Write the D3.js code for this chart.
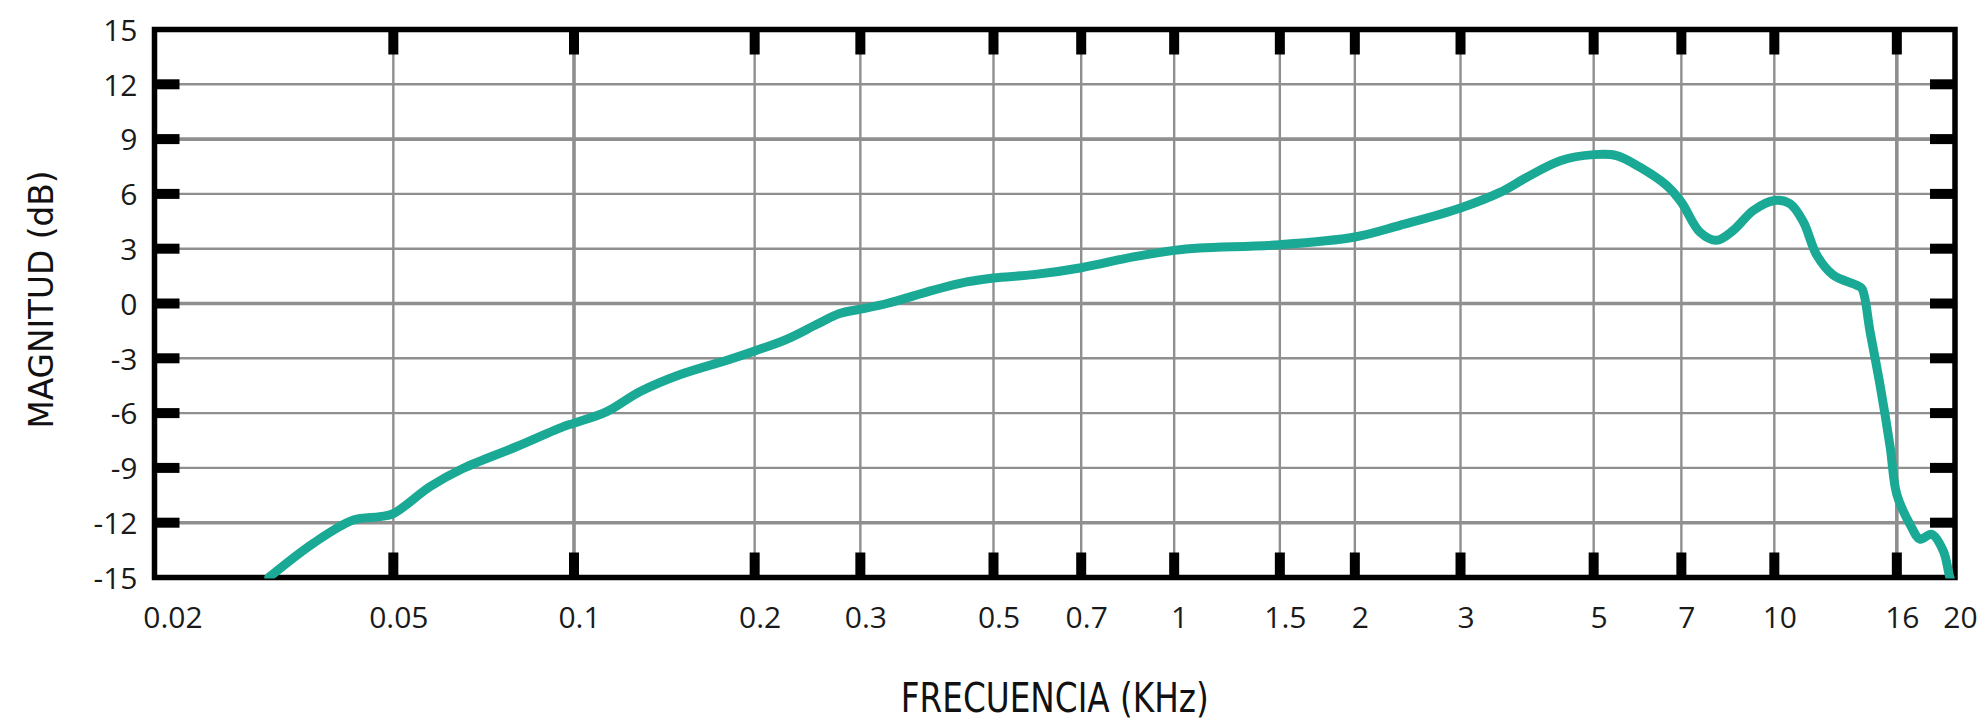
<!DOCTYPE html>
<html>
<head>
<meta charset="utf-8">
<script src="https://cdn.jsdelivr.net/npm/d3@7/dist/d3.min.js"></script>
<style>
  html, body { margin: 0; padding: 0; background: #fff; }
  svg { display: block; }
</style>
</head>
<body>
<svg id="chart" width="1986" height="723"></svg>
<script>
// ---- data ----
const freqKHz = [0.031, 0.0368, 0.0429, 0.0475, 0.05, 0.0576, 0.0654, 0.0803, 0.096, 0.1,
  0.1134, 0.1289, 0.150, 0.182, 0.2, 0.226, 0.254, 0.277, 0.3, 0.332,
  0.397, 0.451, 0.5, 0.583, 0.7, 0.855, 1.0, 1.104, 1.5, 2,
  2.378, 3, 3.49, 3.87, 4.40, 5, 5.46, 5.97, 6.62, 7,
  7.52, 8.01, 8.54, 9.23, 10, 10.62, 11.18, 11.77, 12.54, 13.72,
  13.99, 14.44, 15.0, 15.59, 16, 16.83, 17.49, 18.29, 19.12, 19.6, 20];
const magnitudeDb = [-15, -13.12, -11.85, -11.67, -11.5, -10.02, -9.02, -7.83, -6.74, -6.55,
  -5.92, -4.82, -3.9, -3.05, -2.6, -1.96, -1.14, -0.55, -0.31, 0.0,
  0.73, 1.18, 1.4, 1.58, 1.96, 2.55, 2.91, 3.04, 3.22, 3.64,
  4.28, 5.23, 6.08, 6.91, 7.82, 8.15, 8.1, 7.46, 6.45, 5.54,
  3.9, 3.46, 4.0, 5.1, 5.64, 5.46, 4.46, 2.64, 1.55, 1.0,
  0.82, -1.55, -4.46, -7.82, -10.46, -12.09, -12.9, -12.63, -13.54, -14.97, -15.8];
const xTickValues = [0.02, 0.05, 0.1, 0.2, 0.3, 0.5, 0.7, 1, 1.5, 2, 3, 5, 7, 10, 16, 20];
const yTickValues = [-15, -12, -9, -6, -3, 0, 3, 6, 9, 12, 15];
const xTitle = "FRECUENCIA (KHz)";
const yTitle = "MAGNITUD (dB)";

(function () {
// ---- layout ----
const pL = 154.5, pR = 1955, pT = 29.5, pB = 577.5;
const svg = d3.select("#chart");
const x = d3.scaleLog().domain([0.02, 20]).range([pL, pR]);
const y = d3.scaleLinear().domain([-15, 15]).range([pB, pT]);

const thickX = new Set([0.1, 16]);
const thickY = new Set([9, 0, -12]);

// grid
const grid = svg.append("g");
grid.selectAll("line.vx").data(xTickValues.filter(d => d > 0.02 && d < 20)).join("line")
  .attr("x1", d => x(d)).attr("x2", d => x(d)).attr("y1", pT).attr("y2", pB)
  .attr("stroke", "#8f8f8f").attr("stroke-width", d => thickX.has(d) ? 3.6 : 2.4);
grid.selectAll("line.hy").data(yTickValues.filter(d => d > -15 && d < 15)).join("line")
  .attr("x1", pL).attr("x2", pR).attr("y1", d => y(d)).attr("y2", d => y(d))
  .attr("stroke", "#8f8f8f").attr("stroke-width", d => thickY.has(d) ? 3.6 : 2.4);

// frame
svg.append("rect").attr("x", pL).attr("y", pT).attr("width", pR - pL).attr("height", pB - pT)
  .attr("fill", "none").attr("stroke", "#000").attr("stroke-width", 5.5);

// inner tick marks
const tickLen = 25, tickW = 10;
const innerX = xTickValues.filter(d => d > 0.02 && d < 20);
const innerY = yTickValues.filter(d => d > -15 && d < 15);
const tk = svg.append("g").attr("fill", "#000");
tk.selectAll("rect.tb").data(innerX).join("rect")
  .attr("x", d => x(d) - tickW / 2).attr("y", pB - tickLen).attr("width", tickW).attr("height", tickLen);
tk.selectAll("rect.tt").data(innerX).join("rect")
  .attr("x", d => x(d) - tickW / 2).attr("y", pT).attr("width", tickW).attr("height", tickLen);
tk.selectAll("rect.tl").data(innerY).join("rect")
  .attr("x", pL).attr("y", d => y(d) - tickW / 2).attr("width", tickLen).attr("height", tickW);
tk.selectAll("rect.tr").data(innerY).join("rect")
  .attr("x", pR - tickLen).attr("y", d => y(d) - tickW / 2).attr("width", tickLen).attr("height", tickW);

// axis labels via d3 axes
const fontTicks = "'Open Sans', 'Noto Sans', sans-serif";
const gx = svg.append("g").attr("transform", `translate(0,${pB})`)
  .call(d3.axisBottom(x).tickValues(xTickValues).tickFormat(d => String(d)).tickSize(0).tickPadding(0));
gx.select(".domain").remove();
gx.selectAll("text")
  .attr("font-family", fontTicks).attr("font-size", 30).attr("fill", "#1a1a1a")
  .attr("dy", null).attr("y", 50)
  .attr("dx", d => d === 0.02 ? 18 : 5);

const gy = svg.append("g").attr("transform", `translate(${pL},0)`)
  .call(d3.axisLeft(y).tickValues(yTickValues).tickFormat(d => String(d)).tickSize(0).tickPadding(0));
gy.select(".domain").remove();
gy.selectAll("text")
  .attr("font-family", fontTicks).attr("font-size", 30).attr("fill", "#1a1a1a")
  .attr("x", -17).attr("dy", "0.36em");

// curve
svg.append("clipPath").attr("id", "plotclip").append("rect")
  .attr("x", pL - 3).attr("y", pT - 3).attr("width", pR - pL + 6).attr("height", pB - pT + 4);
const line = d3.line().x((d, i) => x(freqKHz[i])).y(d => y(d)).curve(d3.curveCatmullRom.alpha(0.5));
svg.append("path").datum(magnitudeDb)
  .attr("clip-path", "url(#plotclip)")
  .attr("d", line)
  .attr("fill", "none").attr("stroke", "#19a994").attr("stroke-width", 9)
  .attr("stroke-linejoin", "round").attr("stroke-linecap", "round");

// titles
const fontTitle = "'Liberation Sans Narrow', 'DejaVu Sans Condensed', sans-serif";
svg.append("text").text(xTitle)
  .attr("x", (pL + pR) / 2).attr("y", 712).attr("text-anchor", "middle")
  .attr("font-family", fontTitle).attr("font-size", 40).attr("fill", "#111")
  .attr("textLength", 308).attr("lengthAdjust", "spacingAndGlyphs");
svg.append("text").text(yTitle)
  .attr("transform", `translate(53,${(pT + pB) / 2 - 4}) rotate(-90)`)
  .attr("text-anchor", "middle")
  .attr("font-family", fontTitle).attr("font-size", 34).attr("fill", "#111")
  .attr("textLength", 258).attr("lengthAdjust", "spacingAndGlyphs");
})();
</script>
</body>
</html>
